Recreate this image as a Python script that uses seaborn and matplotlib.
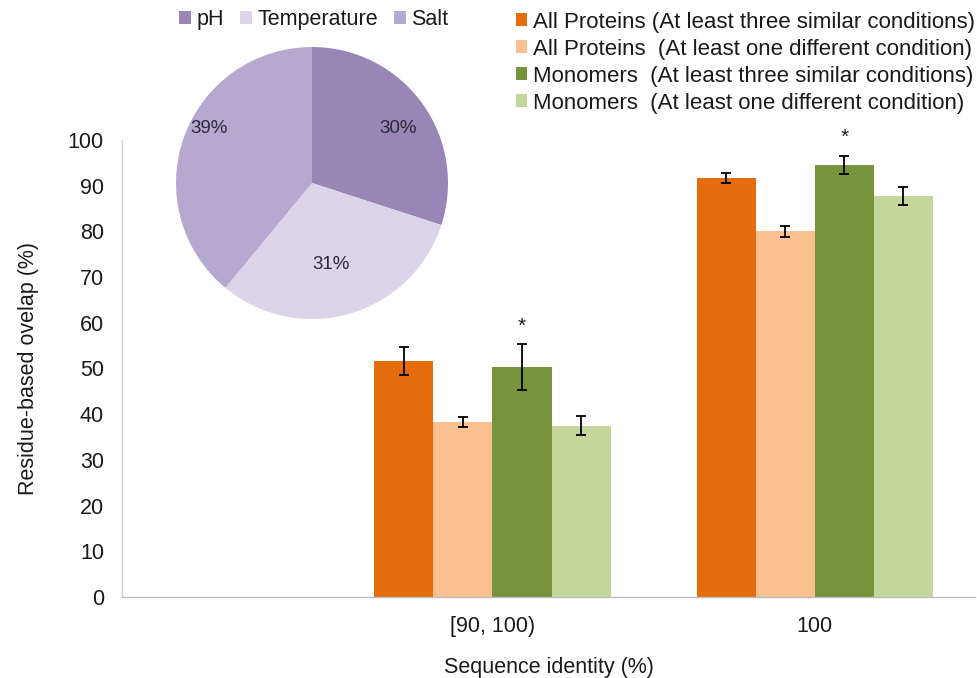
import matplotlib
matplotlib.use("Agg")
import matplotlib.pyplot as plt
from matplotlib.patches import Patch
import seaborn as sns
import pandas as pd

# Residue-based overlap by sequence identity bin
identity_bins = ["[90, 100)", "100"]
series_names = [
    "All Proteins (At least three similar conditions)",
    "All Proteins  (At least one different condition)",
    "Monomers  (At least three similar conditions)",
    "Monomers  (At least one different condition)",
]
series_colors = ["#E46C0A", "#FAC090", "#77933C", "#C3D69B"]
overlap_values = [
    [51.6, 91.7],
    [38.2, 80.0],
    [50.3, 94.6],
    [37.5, 87.8],
]
overlap_errors = [
    [3.0, 1.1],
    [1.1, 1.2],
    [5.0, 2.0],
    [2.0, 2.0],
]
significant_series = "Monomers  (At least three similar conditions)"

# Share of differing conditions
condition_names = ["pH", "Temperature", "Salt"]
condition_shares = [30, 31, 39]
condition_colors = ["#9A85B7", "#DCD4E8", "#B7A8D0"]

rows = []
for name, vals in zip(series_names, overlap_values):
    for b, v in zip(identity_bins, vals):
        rows.append({"identity": b, "group": name, "overlap": v})
df = pd.DataFrame(rows)

sns.set_theme(style="white")
plt.rcParams["font.family"] = ["Liberation Sans", "DejaVu Sans"]
text_color = "#1a1a1a"
fs = 15.5

fig = plt.figure(figsize=(9.77, 6.78), dpi=100)
ax = fig.add_axes([0.1249, 0.1195, 0.8731, 0.674])

sns.barplot(
    data=df, x="identity", y="overlap", hue="group",
    order=identity_bins, hue_order=series_names,
    palette=series_colors, saturation=1, width=0.733,
    errorbar=None, linewidth=0, legend=False, ax=ax,
)

# Error bars and significance markers on top of each bar
for name, cont, errs in zip(series_names, ax.containers, overlap_errors):
    for bar, err in zip(cont.patches, errs):
        xc = bar.get_x() + bar.get_width() / 2
        h = bar.get_height()
        ax.errorbar(xc, h, yerr=err, fmt="none", ecolor="black",
                    elinewidth=1.3, capsize=3.4, capthick=1.3, zorder=5)
        if name == significant_series:
            ax.text(xc, h + err + 3.9, "*", ha="center", va="center",
                    fontsize=15, color=text_color)

ax.set_ylim(0, 100)
ax.set_xlim(-1.149, 1.497)
ax.set_yticks(range(0, 101, 10))
ax.tick_params(axis="both", length=0, labelsize=fs, colors=text_color)
ax.tick_params(axis="y", pad=13)
ax.tick_params(axis="x", pad=14)
ax.set_xlabel("Sequence identity (%)", fontsize=fs, color=text_color, labelpad=14)
ax.set_ylabel("Residue-based ovelap (%)", fontsize=fs, color=text_color, labelpad=21)
for side in ["top", "right"]:
    ax.spines[side].set_visible(False)
ax.spines["left"].set_color("#cfcfcf")
ax.spines["bottom"].set_color("#bdbdbd")
ax.spines["left"].set_linewidth(1)
ax.spines["bottom"].set_linewidth(1)

bar_handles = [Patch(facecolor=c, edgecolor="none") for c in series_colors]
fig.legend(bar_handles, series_names, loc="upper right",
           bbox_to_anchor=(1.016, 1.009), frameon=False, fontsize=16,
           handlelength=0.5, handleheight=0.5, handletextpad=0.25,
           labelspacing=0.27, labelcolor=text_color, borderpad=0.3)

# Inset pie chart
pax = fig.add_axes([176 / 977, 1 - 319 / 678, 272 / 977, 272 / 678])
wedges, _, autotexts = pax.pie(
    condition_shares, colors=condition_colors, startangle=90,
    counterclock=False, autopct="%d%%", pctdistance=0.7,
    wedgeprops={"linewidth": 0},
    textprops={"fontsize": 13.5, "color": "#2a2a3a"},
)
label_pos = [(0.63, 0.40), (0.14, -0.60), (-0.76, 0.40)]
for t, p in zip(autotexts, label_pos):
    t.set_position(p)
pax.set_xlim(-1, 1)
pax.set_ylim(-1, 1)
pax.set_aspect("equal")

pie_handles = [Patch(facecolor=c, edgecolor="none") for c in condition_colors]
fig.legend(pie_handles, condition_names, loc="upper center",
           bbox_to_anchor=(0.321, 1.012), ncol=3, frameon=False, fontsize=fs,
           handlelength=0.55, handleheight=0.55, handletextpad=0.25,
           columnspacing=0.75, labelcolor=text_color, borderpad=0.3)

fig.savefig("out.png", dpi=100)
